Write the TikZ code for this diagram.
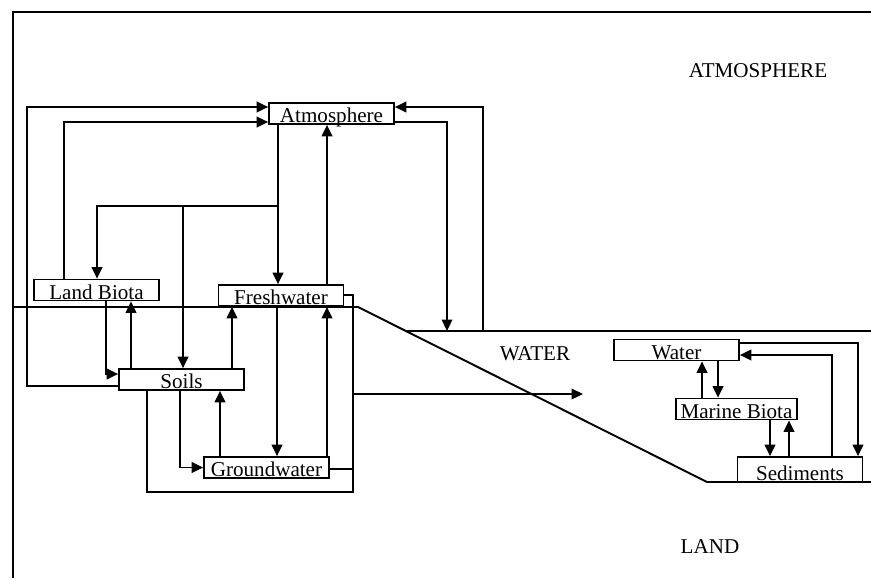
\documentclass[tikz,border=0pt]{standalone}
\usepackage{fontspec}
\setmainfont{Liberation Serif}
\usepackage{tikz}
\usetikzlibrary{arrows.meta,positioning,calc}

\begin{document}
\begin{tikzpicture}[x=0.02cm,y=-0.02cm,line width=1pt,
  pool/.style={draw,fill=white,inner sep=0pt,minimum width=2.5cm,minimum height=0.42cm,text height=0.38cm,text depth=0.02cm,font=\fontsize{12}{14}\selectfont},
  flow/.style={-{Triangle[length=6.5pt,width=6pt]}},
  zone/.style={font=\fontsize{12}{14}\selectfont}]
  \useasboundingbox (0,0) rectangle (871,578);
  % frame and surfaces
  \draw[line width=1.5pt] (13,578) -- (13,12) -- (871,12);
  \draw[line width=1.1pt] (13,307) -- (358,307) -- (707,482) -- (871,482);
  \coordinate (sea) at (406,331);
  \draw[line width=1.1pt] (sea) -- (871,331);
  \node[zone] (atmlabel) at (758,71) {ATMOSPHERE};
  \node[zone] (waterlabel) at (535,354) {WATER};
  \node[zone] (landlabel) at (710,547) {LAND};
  % pools
  \node[pool] (atm) at (331.5,113.5) {Atmosphere};
  \node[pool] (lbio) at (96.5,290) {Land Biota};
  \node[pool] (fresh) at (281,295.5) {Freshwater};
  \node[pool] (soils) at (181.5,379.5) {Soils};
  \node[pool] (ground) at (266.5,467.5) {Groundwater};
  \node[pool] (water) at (676.5,350) {Water};
  \node[pool,minimum width=2.42cm] (mbio) at (736.5,409) {Marine Biota};
  \node[pool,minimum height=0.5cm,text height=0.46cm] (sed) at (800,469.5) {Sediments};
  % atmosphere exchanges
  \draw[flow] (soils.west |- 0,386) -| (27,107) -- (atm.west |- 0,107);
  \draw[flow] (lbio.north -| 64,0) |- (atm.west |- 0,122);
  \draw[flow] (atm.south -| 278,0) -- (fresh.north -| 278,0);
  \coordinate (dep) at (278,206);
  \draw[flow] (dep) -| (lbio.north -| 97,0);
  \draw[flow] (dep -| 183,0) -- (soils.north -| 183,0);
  \draw[flow] (fresh.north -| 327,0) -- (atm.south -| 327,0);
  \draw[flow] (atm.east |- 0,122) -| (sea -| 447,0);
  \draw[flow] (sea -| 483,0) |- (atm.east |- 0,107);
  % land exchanges
  \draw[flow] (lbio.south -| 106,0) |- (soils.west |- 0,374);
  \draw[flow] (soils.north -| 131,0) -- (lbio.south -| 131,0);
  \draw[flow] (soils.north -| 232,0) -- (fresh.south -| 232,0);
  \draw[flow] (fresh.south -| 277,0) -- (ground.north -| 277,0);
  \draw[flow] (ground.north -| 327,0) -- (fresh.south -| 327,0);
  \draw[flow] (ground.north -| 220,0) -- (soils.south -| 220,0);
  \draw[flow] (soils.south -| 180,0) |- (ground.west);
  % runoff to the sea
  \coordinate (runoff) at (583,394);
  \draw (fresh.east |- 0,295) -| (353,492) -| (soils.south -| 147,0);
  \draw (ground.east |- 0,469) -- (353,469);
  \draw[flow] (353,394) -- (runoff);
  % marine exchanges
  \draw[flow] (water.south -| 718,0) -- (mbio.north -| 718,0);
  \draw[flow] (mbio.north -| 702,0) -- (water.south -| 702,0);
  \draw[flow] (mbio.south -| 770,0) -- (sed.north -| 770,0);
  \draw[flow] (sed.north -| 789,0) -- (mbio.south -| 789,0);
  \draw[flow] (water.east |- 0,343) -| (sed.north -| 858,0);
  \draw[flow] (sed.north -| 832,0) |- (water.east |- 0,355);
\end{tikzpicture}
\end{document}
